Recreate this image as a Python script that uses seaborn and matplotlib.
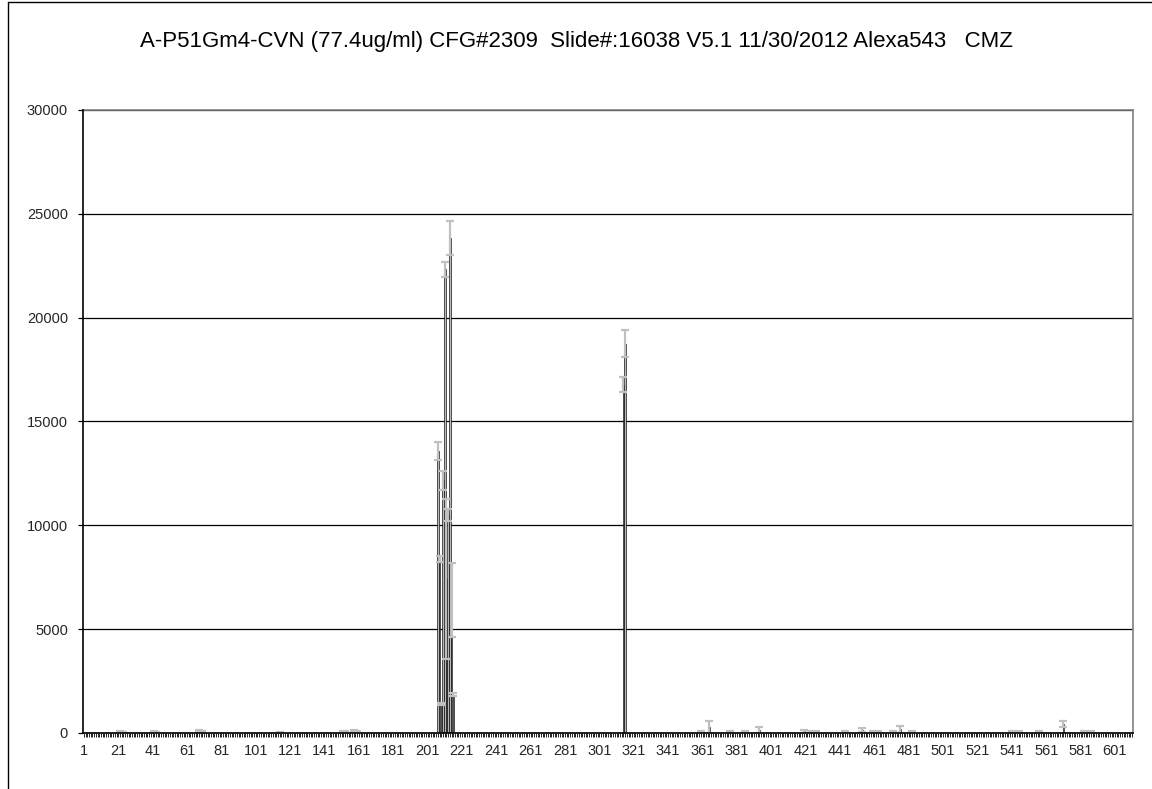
import matplotlib
matplotlib.use("Agg")
import matplotlib.pyplot as plt
import seaborn as sns
import numpy as np
import pandas as pd
from matplotlib.lines import Line2D

# ---------------- data ----------------
TITLE = "A-P51Gm4-CVN (77.4ug/ml) CFG#2309  Slide#:16038 V5.1 11/30/2012 Alexa543   CMZ"
N_GLYCANS = 611

# glycan ids with a readable (non-zero) signal, their mean RFU and StDev
peak_ids = [22, 23, 24, 42, 43, 68, 69, 70, 115, 152, 153, 158, 160,
            207, 208, 209, 210, 211, 212, 213, 214, 215, 216,
            315, 316,
            360, 365, 377, 386, 394, 420, 424, 427, 444, 454, 460, 463,
            472, 476, 483, 541, 545, 557, 571, 583, 587]
peak_values = [60, 50, 40, 60, 50, 110, 90, 60, 30, 80, 60, 90, 70,
               13600, 8370, 1400, 12170, 22330, 7420, 10500, 23840, 6400, 1850,
               16780, 18750,
               90, 300, 80, 70, 150, 80, 90, 80, 70, 150, 90, 80,
               80, 180, 90, 90, 80, 70, 445, 80, 70]
peak_errors = [30, 20, 20, 30, 20, 40, 30, 20, 10, 30, 30, 40, 30,
               430, 130, 40, 450, 360, 3850, 300, 830, 1800, 60,
               360, 650,
               30, 290, 30, 30, 150, 60, 30, 30, 30, 100, 30, 30,
               30, 170, 30, 30, 30, 30, 145, 30, 30]

y_ticks = [0, 5000, 10000, 15000, 20000, 25000, 30000]
x_tick_labels = ["1", "21", "41", "61", "81", "101", "121", "141", "161", "181",
                 "201", "221", "241", "261", "281", "301", "321", "341", "361",
                 "381", "401", "421", "441", "461", "481", "501", "521", "541",
                 "561", "581", "601"]

# ---------------- table ----------------
ids = np.arange(1, N_GLYCANS + 1)
rfu = np.zeros(N_GLYCANS)
sd = np.zeros(N_GLYCANS)
rfu[np.array(peak_ids) - 1] = peak_values
sd[np.array(peak_ids) - 1] = peak_errors
df = pd.DataFrame({"id": ids.astype(str), "rfu": rfu, "sd": sd})

# ---------------- plot ----------------
sns.set_theme(style="white")
plt.rcParams["font.family"] = ["Liberation Sans", "DejaVu Sans"]

fig = plt.figure(figsize=(11.52, 7.89), dpi=100)
ax = fig.add_axes([83 / 1152, 1 - 733 / 789, (1133 - 83) / 1152, (733 - 110) / 789])

sns.barplot(data=df, x="id", y="rfu", order=list(df["id"]), color="#b8b8b8",
            errorbar=None, width=0.9, edgecolor="black", linewidth=0.45,
            saturation=1, ax=ax, zorder=2)

mask = df["sd"].values > 0
pos = np.arange(N_GLYCANS)
ax.errorbar(pos[mask], df["rfu"].values[mask], yerr=df["sd"].values[mask],
            fmt="none", ecolor="#c0c0c0", elinewidth=1.6, capsize=2.8,
            capthick=1.6, zorder=3)

ax.set_xlim(-0.5, N_GLYCANS - 0.5)
ax.set_ylim(0, 30000)
ax.set_yticks(y_ticks)
ax.set_yticklabels([str(v) for v in y_ticks])

labels = [s if s in x_tick_labels else "" for s in df["id"]]
ax.set_xticks(pos)
ax.set_xticklabels(labels, rotation=0)

ax.set_xlabel("")
ax.set_ylabel("")

ax.yaxis.grid(True, color="black", linewidth=0.9, zorder=0)
ax.xaxis.grid(False)
ax.set_axisbelow(True)

ax.tick_params(axis="x", which="major", direction="out", length=2.7, width=0.6,
               color="black", pad=5, labelsize=10.5, bottom=True)
ax.tick_params(axis="y", which="major", direction="out", length=3.8, width=0.9,
               color="black", pad=7, labelsize=10.5, left=True)

for side in ["left", "bottom"]:
    ax.spines[side].set_color("black")
    ax.spines[side].set_linewidth(1.2)
for side in ["top", "right"]:
    ax.spines[side].set_color("#808080")
    ax.spines[side].set_linewidth(1.2)
ax.spines["left"].set_zorder(4)
ax.spines["bottom"].set_zorder(4)

fig.text(0.5, 1 - 42 / 789, TITLE, ha="center", va="center", fontsize=16,
         color="black")

# chart-area border (left and top edges visible in the crop)
fig.add_artist(Line2D([7.5 / 1152, 7.5 / 1152], [0, 1 - 1.5 / 789],
                      color="black", linewidth=1.0, transform=fig.transFigure))
fig.add_artist(Line2D([7.5 / 1152, 1], [1 - 1.5 / 789, 1 - 1.5 / 789],
                      color="black", linewidth=1.0, transform=fig.transFigure))

fig.savefig("out.png", dpi=100, facecolor="white")
